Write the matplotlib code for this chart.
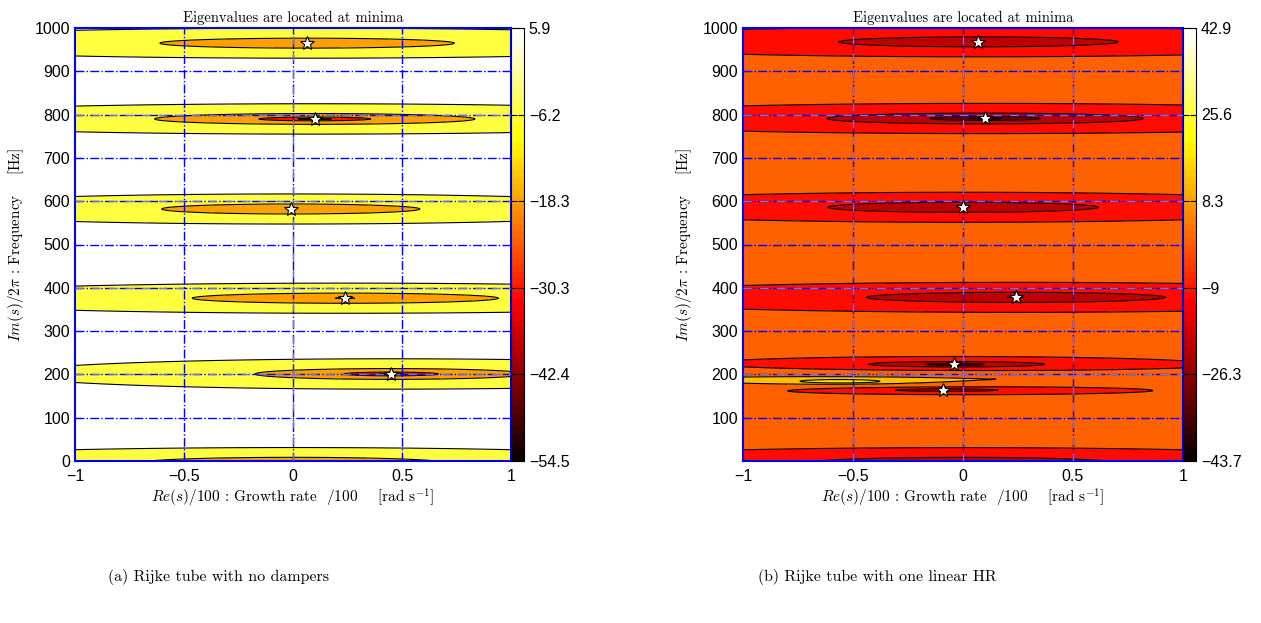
import numpy as np
import matplotlib
matplotlib.use('Agg')
import matplotlib.pyplot as plt
from matplotlib import colors as mcolors
from matplotlib.colorbar import ColorbarBase

plt.rcParams['mathtext.fontset'] = 'cm'
plt.rcParams['font.family'] = ['Liberation Sans', 'DejaVu Sans']

# eigenvalues: Re(s)/100 and Im(s)/2pi [Hz]
# depth = how deep the minimum goes, kx = how wide it spreads along Re(s), sc = how tight it is
eig_a_re = [0.0, 0.45, 0.24, -0.01, 0.10, 0.065]
eig_a_im = [-4, 201, 376, 582, 790, 965]
eig_a_depth = [1.0, 1.2, 4.4, 5.0, 1.0, 5.0]
eig_a_kx = [18.0, 20.0, 16.7, 19.4, 17.0, 17.0]
eig_a_sc = [1.0, 1.0, 1.0, 1.0, 1.0, 1.0]

eig_b_re = [0.0, -0.09, -0.04, 0.24, 0.0, 0.10, 0.07]
eig_b_im = [-4, 164, 223, 378, 586, 791, 968]
eig_b_depth = [1.0, 1.5, 0.8, 4.4, 4.4, 1.0, 5.0]
eig_b_kx = [18.0, 12.0, 15.7, 17.2, 19.0, 17.3, 18.0]
eig_b_sc = [1.0, 2.6, 1.9, 1.0, 1.0, 1.0, 1.0]

# the maximum in panel (b) (yellow streak): Re, Im, reach, strength, width
pole_b = (-0.55, 183, 45.0, 0.57, 20.0)
cap_b = 8.0

# colour levels and colourbars
levels_a = [-42.4, -30.3, -18.3, -6.2, 5.9]
cbar_a = [-54.5, -42.4, -30.3, -18.3, -6.2, 5.9]
cbar_a_lab = ['\u221254.5', '\u221242.4', '\u221230.3', '\u221218.3', '\u22126.2', '5.9']

levels_b = [-30, -20, -10, 0, 12, 18]
cbar_b = [-43.7, -26.3, -9, 8.3, 25.6, 42.9]
cbar_b_lab = ['\u221243.7', '\u221226.3', '\u22129', '8.3', '25.6', '42.9']

x_ticks = [-1, -0.5, 0, 0.5, 1]
x_lab = ['\u22121', '\u22120.5', '0', '0.5', '1']

captions = ['(a) Rijke tube with no dampers', '(b) Rijke tube with one linear HR']

hot = plt.get_cmap('hot', 64)

xs = np.linspace(-1, 1, 41)
ys = np.linspace(0, 1000, 1001)
X, Y = np.meshgrid(xs, ys)


def field(re, im, depth, kx, sc, z0, c, pole=None, cap=1e4):
    r2 = np.full(X.shape, 1e12)
    for a, b, d, k, s in zip(re, im, depth, kx, sc):
        r2 = np.minimum(r2, s ** 2 * ((k * (X - a)) ** 2 + (Y - b) ** 2 + d ** 2))
    Z = np.minimum(z0 + c * 0.5 * np.log(r2), cap)
    if pole is not None:
        rp = np.sqrt((pole[4] * (X - pole[0])) ** 2 + (Y - pole[1]) ** 2) + 0.05
        Z += c * pole[3] * np.log(np.maximum(pole[2] / rp, 1.0))
    return Z


def panel(ax, cax, Z, levels, vmin, vmax, cticks, clabs, sre, sim, yticks):
    norm = mcolors.Normalize(vmin, vmax)
    lv = [-1e4] + levels + [1e4]
    fills = [hot(norm(vmin))] + [hot(norm(l)) for l in levels]
    ax.contourf(X, Y, Z, levels=lv, colors=fills)
    ax.contour(X, Y, Z, levels=levels, colors='k', linewidths=0.8, linestyles='solid')
    for v in x_ticks[1:-1]:
        ax.axvline(v, color='b', ls='-.', lw=1.0, zorder=3)
    for v in range(100, 1000, 100):
        ax.axhline(v, color='b', ls='-.', lw=1.0, zorder=3)
    for v in [200, 400, 600, 800]:
        ax.axhline(v, color=(0.45, 0.45, 0.9), ls='--', dashes=(6, 6), lw=1.0, zorder=3)
    ax.axvline(0, color=(0.45, 0.45, 0.9), ls='--', dashes=(6, 6), lw=1.0, zorder=3)
    sx = [a for a, b in zip(sre, sim) if b > 0]
    sy = [b for b in sim if b > 0]
    ax.plot(sx, sy, '*', ms=10, mfc='w', mec='k', mew=0.8, zorder=5)
    ax.set_xlim(-1, 1)
    ax.set_ylim(0, 1000)
    ax.set_xticks(x_ticks)
    ax.set_xticklabels(x_lab)
    ax.set_yticks(yticks)
    ax.tick_params(direction='in', length=4, labelsize=11.5, colors='k')
    ax.tick_params(axis='x', pad=6)
    for s in ax.spines.values():
        s.set_color('b')
        s.set_linewidth(1.5)
    ax.set_title('Eigenvalues are located at minima', family='cmr10', fontsize=10.5, pad=4)
    ax.set_xlabel(r'$Re(s)/100$ : Growth rate  /100    [rad s$^{-1}$]', family='cmr10', fontsize=11, labelpad=2)
    ax.set_ylabel(r'$Im(s)/2\pi$ : Frequency    [Hz]', family='cmr10', fontsize=11, labelpad=6)
    cb = ColorbarBase(cax, cmap=hot, norm=norm, ticks=cticks)
    cb.set_ticklabels(clabs)
    cax.tick_params(direction='in', length=4, labelsize=11.5, left=True, right=True)
    cb.outline.set_linewidth(0.8)


fig = plt.figure(figsize=(12.61, 6.23), dpi=100)
ax1 = fig.add_axes([75 / 1261, 1 - 461 / 623, 436 / 1261, 433 / 623])
cax1 = fig.add_axes([511 / 1261, 1 - 461 / 623, 13 / 1261, 433 / 623])
ax2 = fig.add_axes([743 / 1261, 1 - 461 / 623, 440 / 1261, 433 / 623])
cax2 = fig.add_axes([1183 / 1261, 1 - 461 / 623, 13 / 1261, 433 / 623])

Za = field(eig_a_re, eig_a_im, eig_a_depth, eig_a_kx, eig_a_sc, -35.9, 11.75)
Zb = field(eig_b_re, eig_b_im, eig_b_depth, eig_b_kx, eig_b_sc, -34.5, 9.71, pole_b, cap_b)

panel(ax1, cax1, Za, levels_a, cbar_a[0], cbar_a[-1], cbar_a, cbar_a_lab,
      eig_a_re, eig_a_im, range(0, 1001, 100))
panel(ax2, cax2, Zb, levels_b, cbar_b[0], cbar_b[-1], cbar_b, cbar_b_lab,
      eig_b_re, eig_b_im, range(100, 1001, 100))
for v in [-0.5, 0.5]:
    ax2.axvline(v, color=(0.45, 0.45, 0.9), ls='--', dashes=(6, 6), lw=1.0, zorder=3)

fig.text(218 / 1261, 1 - 577 / 623, captions[0], family='cmr10', fontsize=11.5, ha='center', va='center')
fig.text(877 / 1261, 1 - 577 / 623, captions[1], family='cmr10', fontsize=11.5, ha='center', va='center')

fig.savefig('out.png', dpi=100)
